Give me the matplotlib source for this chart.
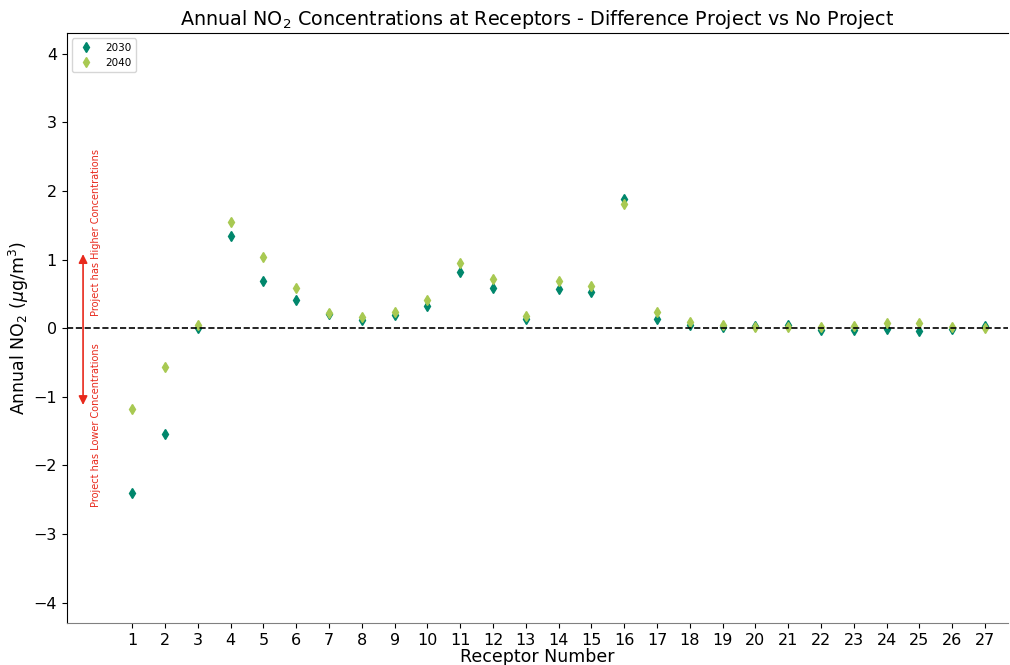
import numpy as np
import matplotlib
matplotlib.use('Agg')
import matplotlib.pyplot as plt

# Difference in annual NO2 (project minus no project) at each receptor
receptors = list(range(1, 28))
diff_2030 = [-2.40, -1.54, 0.00, 1.34, 0.69, 0.41, 0.20, 0.12, 0.19, 0.33,
             0.82, 0.59, 0.13, 0.57, 0.53, 1.88, 0.13, 0.04, 0.01, 0.03,
             0.04, -0.02, -0.03, -0.01, -0.04, -0.01, 0.03]
diff_2040 = [-1.18, -0.56, 0.04, 1.55, 1.04, 0.58, 0.22, 0.17, 0.24, 0.41,
             0.95, 0.71, 0.18, 0.69, 0.62, 1.81, 0.23, 0.09, 0.05, 0.01,
             0.02, 0.02, 0.03, 0.07, 0.08, 0.01, 0.00]

years = ['2030', '2040']
colors = ['#00876c', '#a8c952']

fig, ax = plt.subplots(figsize=(10.1, 6.65), dpi=100)

ax.plot(receptors, diff_2030, linestyle='none', marker='d', markersize=5.5,
        color=colors[0], label=years[0])
ax.plot(receptors, diff_2040, linestyle='none', marker='d', markersize=5.5,
        color=colors[1], label=years[1])

ax.axhline(0, color='black', linestyle='--', linewidth=1.2)

# arrow showing which side is higher / lower
ax.annotate('', xy=(-0.5, 1.08), xytext=(-0.5, -1.12),
            arrowprops=dict(arrowstyle='<|-|>', color='#e8291c', lw=1.2,
                            mutation_scale=13, shrinkA=0, shrinkB=0))
ax.text(-0.1, 0.18, 'Project has Higher Concentrations', rotation=90,
        color='#e8291c', fontsize=7, ha='center', va='bottom')
ax.text(-0.1, -0.22, 'Project has Lower Concentrations', rotation=90,
        color='#e8291c', fontsize=7, ha='center', va='top')

ax.set_xlim(-1, 27.7)
ax.set_ylim(-4.3, 4.3)
ax.set_xticks(receptors)
ax.set_yticks(np.arange(-4, 5, 1))
ax.tick_params(labelsize=11.5)

ax.spines['right'].set_visible(False)
ax.spines['bottom'].set_color('#808080')

ax.set_xlabel('Receptor Number', fontsize=12.5, labelpad=0)
ax.set_ylabel('Annual NO$_2$ ($\\mu$g/m$^3$)', fontsize=12.5, labelpad=2)
ax.set_title('Annual NO$_2$ Concentrations at Receptors - Difference Project vs No Project',
             fontsize=13.8)

ax.legend(loc='upper left', fontsize=7.5)

fig.subplots_adjust(left=0.066, right=0.998, top=0.95, bottom=0.063)
fig.savefig('out.png')
